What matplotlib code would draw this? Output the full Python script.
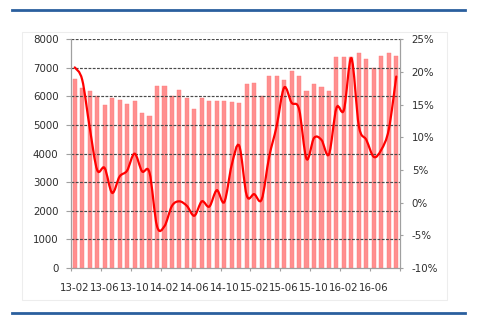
import numpy as np
import matplotlib.pyplot as plt
from matplotlib.path import Path
from matplotlib.patches import PathPatch, Rectangle
from matplotlib.ticker import FuncFormatter, FixedLocator

plt.rcParams['font.family'] = ['DejaVu Sans']

# monthly series, 2013-02 .. 2016-09
months = ['13-%02d' % m for m in range(2, 13)] + \
         ['14-%02d' % m for m in range(1, 13)] + \
         ['15-%02d' % m for m in range(1, 13)] + \
         ['16-%02d' % m for m in range(1, 10)]

volume = [6600, 6300, 6200, 6000, 5700, 5940, 5890, 5740, 5840, 5430,
          5300, 6370, 6370, 6000, 6230, 5960, 5560, 5940, 5850, 5840,
          5850, 5810, 5780, 6450, 6460, 6030, 6720, 6720, 6580, 6880,
          6720, 6200, 6450, 6340, 6200, 7370, 7370, 7370, 7510, 7300,
          6990, 7420, 7510, 7420]

growth = [20.7, 18.8, 11.5, 5.0, 5.3, 1.5, 4.0, 4.9, 7.5, 4.8,
          4.6, -3.6, -3.6, -0.5, 0.2, -0.5, -2.0, 0.2, -0.6, 1.9,
          0.1, 5.8, 8.7, 1.1, 1.3, 0.5, 7.0, 11.7, 17.6, 15.3,
          14.3, 6.7, 9.9, 9.6, 7.4, 14.5, 14.2, 22.1, 11.7, 9.6,
          7.0, 8.1, 11.2, 19.3]

label_every = 4
grid_col = '#4a4a4a'
spine_col = '#a0a0a0'
text_col = '#2e2e2e'
fs = 7.4

fig = plt.figure(figsize=(4.81, 3.23), dpi=100)
fig.patch.set_facecolor('white')

# faint frame and the two blue rules
fig.add_artist(Rectangle((22 / 481, 1 - 300 / 323), 425 / 481, 268 / 323,
                         transform=fig.transFigure, fill=False,
                         edgecolor='#ededed', linewidth=0.8))
fig.add_artist(plt.Line2D([12 / 481, 465 / 481], [1 - 10 / 323] * 2,
                          transform=fig.transFigure, color='#2a5f9e', linewidth=2))
fig.add_artist(plt.Line2D([12 / 481, 465 / 481], [1 - 313 / 323] * 2,
                          transform=fig.transFigure, color='#2a5f9e', linewidth=2))

ax = fig.add_axes([71 / 481, 1 - 268 / 323, 329 / 481, 228.7 / 323])
x = np.arange(len(months))
ax.bar(x, volume, width=0.55, color='#ff8f8f', edgecolor='#ff7a7a',
       linewidth=0.3, zorder=1)

ax.set_xlim(-0.5, len(months) - 0.5)
ax.set_ylim(0, 8000)
ax.set_yticks(np.arange(0, 8001, 1000))
for v in range(1000, 8001, 1000):
    ax.axhline(v, color=grid_col, linestyle=(0, (2.4, 1.2)), linewidth=0.85, zorder=2)

ax.set_xticks(x[::label_every])
ax.set_xticklabels(months[::label_every])
ax.xaxis.set_minor_locator(FixedLocator(np.arange(-0.5, len(months), label_every)))
ax.tick_params(axis='x', which='major', length=0, pad=11, labelsize=fs, colors=text_col)
ax.tick_params(axis='x', which='minor', length=2.5, color=spine_col, width=0.8)
ax.tick_params(axis='y', length=3.5, color=spine_col, width=0.8, pad=5.5,
               labelsize=fs, labelcolor=text_col)

for s in ['top', 'right']:
    ax.spines[s].set_visible(False)
for s in ['left', 'bottom']:
    ax.spines[s].set_color(spine_col)
    ax.spines[s].set_linewidth(0.9)

ax2 = ax.twinx()
ax2.set_ylim(-10, 25)
ax2.set_yticks(np.arange(-10, 26, 5))
ax2.yaxis.set_major_formatter(FuncFormatter(lambda v, p: '%d%%' % v))
ax2.tick_params(axis='y', length=2.5, color=spine_col, width=0.8, pad=6,
                labelsize=fs, labelcolor=text_col)
for s in ['top', 'left', 'bottom']:
    ax2.spines[s].set_visible(False)
ax2.spines['right'].set_color(spine_col)
ax2.spines['right'].set_linewidth(0.9)

# smoothed growth line (Catmull-Rom as cubic Bezier segments)
pts = np.column_stack([x, growth]).astype(float)
ext = np.vstack([pts[0], pts, pts[-1]])
verts = [pts[0]]
codes = [Path.MOVETO]
for i in range(len(pts) - 1):
    p0, p1, p2, p3 = ext[i], ext[i + 1], ext[i + 2], ext[i + 3]
    verts += [p1 + (p2 - p0) / 6, p2 - (p3 - p1) / 6, p2]
    codes += [Path.CURVE4] * 3
ax2.add_patch(PathPatch(Path(verts, codes), fill=False, edgecolor='#ff0000',
                        linewidth=1.6, zorder=3, capstyle='round'))

fig.savefig('out.png', dpi=100)
